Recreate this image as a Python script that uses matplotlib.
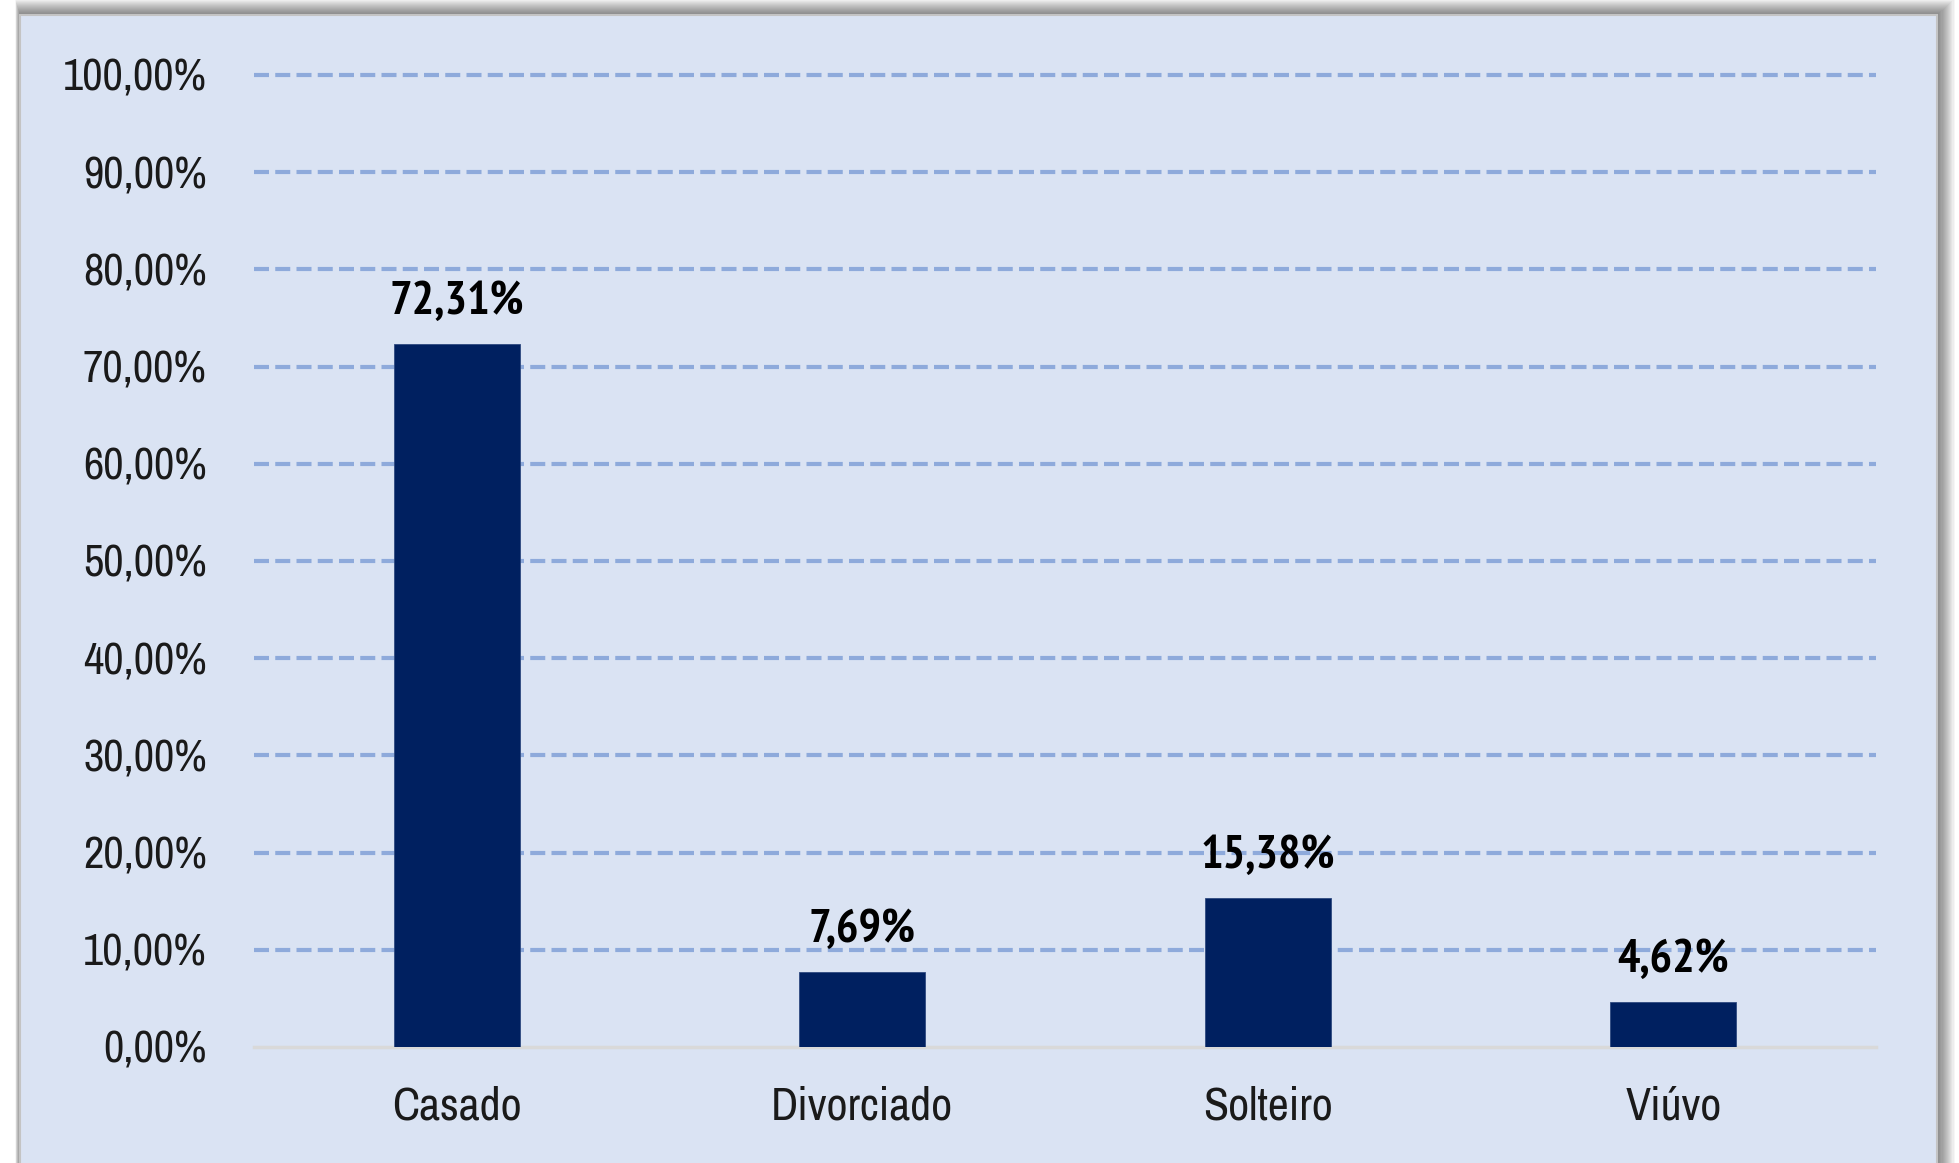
import matplotlib
matplotlib.use("Agg")
import matplotlib.pyplot as plt
from matplotlib.patches import Rectangle
from matplotlib import font_manager

categories = ["Casado", "Divorciado", "Solteiro", "Viúvo"]
values = [72.31, 7.69, 15.38, 4.62]
yticks = [0, 10, 20, 30, 40, 50, 60, 70, 80, 90, 100]

fonts = font_manager.fontManager.ttflist
names = {f.name for f in fonts}
bold_names = {f.name for f in fonts if (f.weight if isinstance(f.weight, int) else 400) >= 700
              or str(f.weight) in ("bold", "heavy", "extra bold", "black")}
prefs = ["Liberation Sans Narrow", "Arial Narrow", "Archivo Narrow", "PT Sans Narrow",
         "Roboto Condensed", "Arimo Narrow", "Pragati Narrow", "Fira Sans Condensed",
         "IBM Plex Sans Condensed", "Open Sans Condensed", "Liberation Sans"]
fam = next((p for p in prefs if p in names), "DejaVu Sans")
bfam = next((p for p in prefs if p in bold_names), "DejaVu Sans")
plt.rcParams["font.family"] = [fam, "DejaVu Sans"]

W, H = 1959, 1163
fig = plt.figure(figsize=(W / 100, H / 100), dpi=100)
fig.patch.set_facecolor("white")

# panel shadow and panel
px0, py0, px1, py1 = 20, 15, 1937, 1175
for i in range(16):
    off = 16 - i
    fig.patches.append(Rectangle(((px0 - off * 0.3) / W, 1 - (py1 + off) / H),
                                 (px1 - px0 + off * 1.4) / W, (py1 - py0 + off * 2.0) / H,
                                 transform=fig.transFigure, facecolor="black", alpha=0.035,
                                 edgecolor="none", zorder=0))
fig.patches.append(Rectangle((px0 / W, 1 - py1 / H), (px1 - px0) / W, (py1 - py0) / H,
                             transform=fig.transFigure, facecolor="#DAE3F3",
                             edgecolor="#C4C4C4", linewidth=1.5, zorder=1))

ax_l, ax_r, ax_t, ax_b = 254, 1876, 75, 1047
ax = fig.add_axes([ax_l / W, 1 - ax_b / H, (ax_r - ax_l) / W, (ax_b - ax_t) / H])
ax.set_facecolor("none")
ax.set_zorder(2)

x = list(range(len(categories)))
ax.bar(x, values, width=0.31, color="#002060", edgecolor="#2F4A80", linewidth=0.6, zorder=3)
ax.set_xlim(-0.5, len(categories) - 0.5)
ax.set_ylim(0, 100)

for yv in yticks[1:]:
    ax.axhline(yv, color="#8EAADB", linewidth=3.0, linestyle=(0, (3.6, 1.5)), zorder=1, clip_on=False)
ax.axhline(0, color="#D9D9D9", linewidth=2.5, zorder=2, clip_on=False)

ax.set_yticks(yticks)
ax.set_yticklabels([f"{v:.2f}".replace(".", ",") + "%" for v in yticks], fontsize=32, color="#1a1a1a")
ax.set_xticks(x)
ax.set_xticklabels(categories, fontsize=33, color="#1a1a1a")
ax.tick_params(axis="y", length=0, pad=34)
ax.tick_params(axis="x", length=0, pad=28)
for s in ax.spines.values():
    s.set_visible(False)

for xi, v in zip(x, values):
    ax.annotate(f"{v:.2f}".replace(".", ",") + "%", (xi, v), xytext=(0, 15),
                textcoords="offset points", ha="center", va="bottom",
                fontsize=34, fontweight="bold", color="black", zorder=4,
                family=[bfam, "DejaVu Sans"])

fig.savefig("out.png", dpi=100, facecolor="white")
